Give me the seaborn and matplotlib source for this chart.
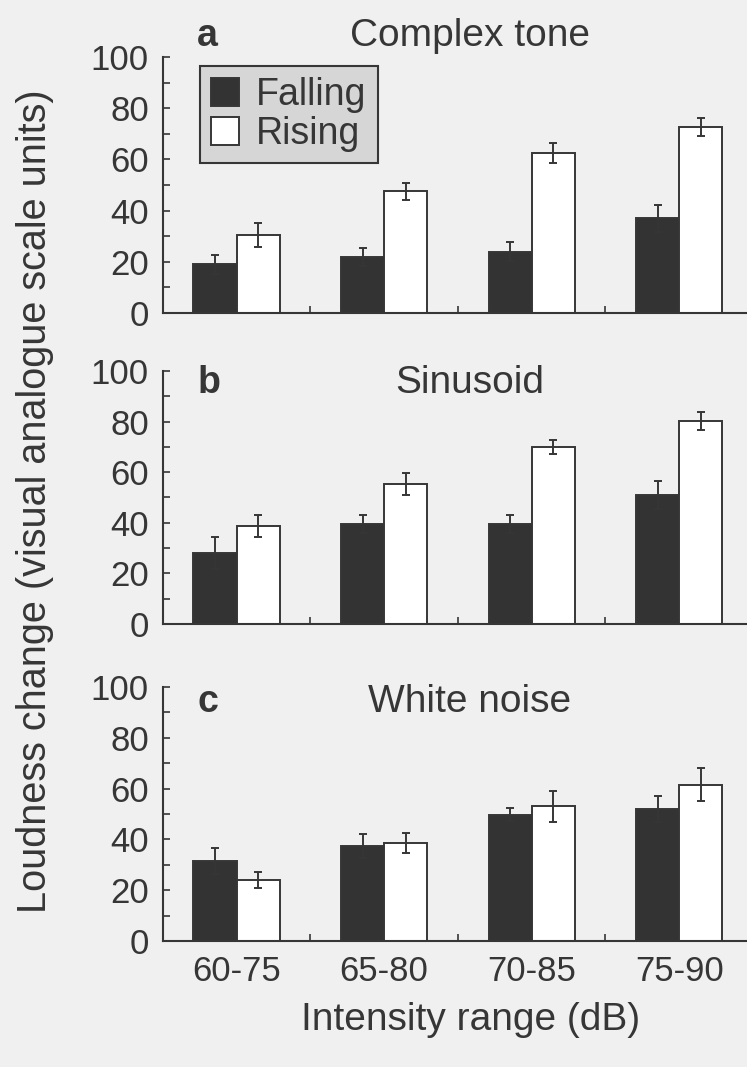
import matplotlib
matplotlib.use("Agg")
import matplotlib.pyplot as plt
from matplotlib.ticker import MultipleLocator, FixedLocator
import numpy as np
import pandas as pd
import seaborn as sns

# Intensity ranges (dB) and stimulus conditions
ranges = ["60-75", "65-80", "70-85", "75-90"]
directions = ["Falling", "Rising"]

# Mean loudness change (visual analogue scale units) and s.e.m.
tone_falling = [19, 22, 24, 37]
tone_rising = [30.5, 47.5, 62.5, 72.5]
tone_falling_err = [3.6, 3.5, 3.6, 5.2]
tone_rising_err = [4.6, 3.3, 3.9, 3.5]

sine_falling = [28, 39.5, 39.5, 51]
sine_rising = [38.8, 55.2, 70, 80.3]
sine_falling_err = [6.4, 3.7, 3.7, 5.5]
sine_rising_err = [4.3, 4.3, 2.9, 3.5]

noise_falling = [31.5, 37.4, 49.8, 52]
noise_rising = [24, 38.7, 53, 61.5]
noise_falling_err = [5.2, 4.8, 2.7, 5.1]
noise_rising_err = [3.0, 3.9, 6.0, 6.5]

panels = [
    ("a", "Complex tone", tone_falling, tone_rising, tone_falling_err, tone_rising_err),
    ("b", "Sinusoid", sine_falling, sine_rising, sine_falling_err, sine_rising_err),
    ("c", "White noise", noise_falling, noise_rising, noise_falling_err, noise_rising_err),
]

sns.set_style("white")
plt.rcParams["font.family"] = ["Liberation Sans", "DejaVu Sans"]

INK = "#363636"
BG = "#f0f0f0"
DARK = "#333333"

fig = plt.figure(figsize=(7.47, 10.67), dpi=100, facecolor=BG)

# axes rectangles: left, bottom, width, height (figure fraction)
rects = [
    (0.218, 0.7067, 0.79, 0.2399),
    (0.218, 0.4152, 0.79, 0.2371),
    (0.218, 0.1181, 0.79, 0.2380),
]
# title baseline positions in axes fraction
title_y = [1.043, 0.913, 0.900]

for i, (letter, title, fall, rise, ferr, rerr) in enumerate(panels):
    ax = fig.add_axes(rects[i])
    ax.set_facecolor("none")
    df = pd.DataFrame({
        "range": ranges * 2,
        "direction": ["Falling"] * 4 + ["Rising"] * 4,
        "value": list(fall) + list(rise),
        "err": list(ferr) + list(rerr),
    })
    sns.barplot(data=df, x="range", y="value", hue="direction",
                hue_order=directions, order=ranges,
                palette={"Falling": DARK, "Rising": "white"},
                width=0.585, gap=0, errorbar=None,
                edgecolor=INK, linewidth=1.4, saturation=1,
                legend=(i == 0), ax=ax)

    # error bars placed at the centres of the drawn bars
    bars = [p for p in ax.patches if p.get_height() > 0 and p.get_width() < 1]
    for p in bars:
        cx = p.get_x() + p.get_width() / 2
        h = p.get_height()
        match = df[np.isclose(df["value"], h)]
        e = match["err"].iloc[0]
        ax.errorbar(cx, h, yerr=e, fmt="none", ecolor=INK,
                    elinewidth=1.4, capsize=3, capthick=1.4, zorder=5)

    ax.set_ylim(0, 100)
    ax.set_xlim(-0.5, 3.5)
    ax.yaxis.set_major_locator(MultipleLocator(20))
    ax.yaxis.set_minor_locator(MultipleLocator(10))
    ax.tick_params(axis="y", which="both", direction="in", length=5,
                   width=1.2, color=INK, labelsize=25, labelcolor=INK,
                   pad=10, left=True)
    ax.xaxis.set_minor_locator(FixedLocator([0.5, 1.5, 2.5]))
    ax.tick_params(axis="x", which="minor", direction="in", length=5,
                   width=1.2, color=INK, bottom=True)
    ax.tick_params(axis="x", which="major", length=0, labelsize=25,
                   labelcolor=INK, pad=10)
    if i < 2:
        ax.set_xticklabels([])
    ax.set_xlabel("")
    ax.set_ylabel("")

    for side in ["top", "right"]:
        ax.spines[side].set_visible(False)
    for side in ["left", "bottom"]:
        ax.spines[side].set_color(INK)
        ax.spines[side].set_linewidth(1.5)

    ax.text(0.52, title_y[i], title, transform=ax.transAxes,
            ha="center", va="baseline", fontsize=28, color=INK)
    ax.text(0.058, title_y[i], letter, transform=ax.transAxes,
            ha="left", va="baseline", fontsize=27, fontweight="bold",
            color=INK)

    if i == 0:
        handles, labels = ax.get_legend_handles_labels()
        leg = ax.legend(handles, labels, loc="upper left",
                        bbox_to_anchor=(0.063, 0.965), fontsize=27,
                        frameon=True, fancybox=False, handlelength=0.75,
                        handleheight=0.8, handletextpad=0.45,
                        borderpad=0.3, labelspacing=0.08,
                        borderaxespad=0)
        frame = leg.get_frame()
        frame.set_facecolor("#d6d6d6")
        frame.set_edgecolor(INK)
        frame.set_linewidth(1.5)
        frame.set_alpha(1)
        for t in leg.get_texts():
            t.set_color(INK)

fig.text(0.047, 0.53, "Loudness change (visual analogue scale units)",
         rotation=90, ha="center", va="center", fontsize=28.5, color=INK)
fig.text(0.63, 0.044, "Intensity range (dB)", ha="center", va="center",
         fontsize=28, color=INK)

fig.savefig("out.png", dpi=100, facecolor=BG)
